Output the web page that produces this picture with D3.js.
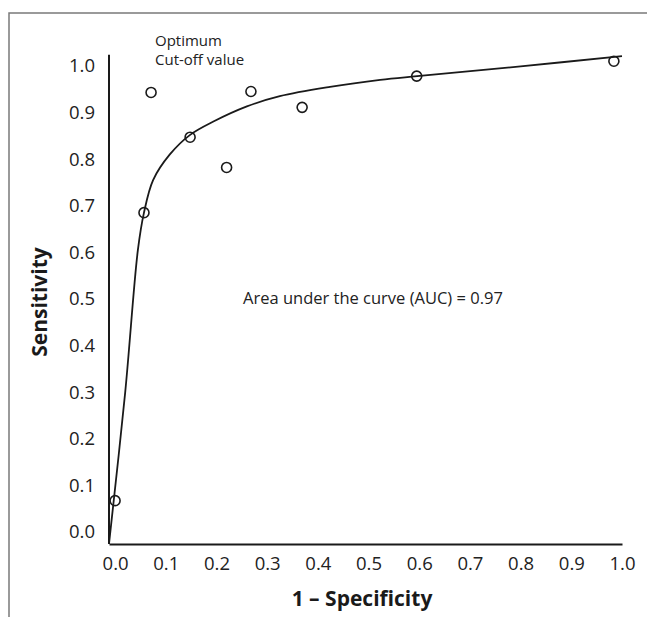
<!DOCTYPE html>
<html>
<head>
<meta charset="utf-8">
<script src="https://cdn.jsdelivr.net/npm/d3@7"></script>
<style>
  body { margin: 0; background: #fff; }
  svg { display: block; font-family: "Open Sans", "Noto Sans", sans-serif; }
</style>
</head>
<body>
<div id="chart"></div>
<script>
// Configuration
const WIDTH = 647;
const HEIGHT = 617;

// Data
const tickValues = [0, 0.1, 0.2, 0.3, 0.4, 0.5, 0.6, 0.7, 0.8, 0.9, 1.0];
const pointX = [0.0, 0.057, 0.071, 0.148, 0.220, 0.268, 0.369, 0.595, 0.984];
const pointY = [0.067, 0.685, 0.943, 0.847, 0.782, 0.945, 0.911, 0.978, 1.01];
const curveX = [-0.012, 0.02, 0.045, 0.057, 0.075, 0.108, 0.148, 0.193, 0.26, 0.325, 0.424, 0.523, 0.596, 0.8, 1.0];
const curveY = [-0.026, 0.30, 0.605, 0.685, 0.755, 0.81, 0.852, 0.880, 0.913, 0.935, 0.955, 0.970, 0.978, 0.999, 1.021];

const svg = d3.select("#chart")
    .append("svg")
    .attr("width", WIDTH)
    .attr("height", HEIGHT);

// Frame lines (top and left)
svg.append("path")
    .attr("d", `M9,${HEIGHT} L9,13 L${WIDTH},13`)
    .attr("fill", "none")
    .attr("stroke", "#7a7a7a")
    .attr("stroke-width", 1.5);

// Scales (0.1 = ~50.7px across, ~46.6px up)
const x = d3.scaleLinear().domain([-0.012, 1.0]).range([109, 622]);
const y = d3.scaleLinear().domain([-0.026, 1.0]).range([544, 544 - 1.026 * 466]);

// Axes
const xAxis = svg.append("g")
    .attr("transform", `translate(0,${y(-0.026)})`)
    .call(d3.axisBottom(x).tickValues(tickValues).tickSize(0).tickPadding(13)
        .tickFormat(d3.format(".1f")));

const yAxis = svg.append("g")
    .attr("transform", `translate(${x(-0.012)},0)`)
    .call(d3.axisLeft(y).tickValues(tickValues).tickSize(0).tickPadding(14)
        .tickFormat(d3.format(".1f")));

[xAxis, yAxis].forEach(g => {
    g.select(".domain").attr("stroke", "#1a1a1a").attr("stroke-width", 2);
    g.selectAll("text")
        .attr("fill", "#222")
        .style("font-size", "18.5px")
        .style("font-family", "'Open Sans', 'Noto Sans', sans-serif");
});
// y axis line runs a bit above 1.0
yAxis.select(".domain").attr("d", `M0,${y(1.024)}V${y(-0.026)}`);

// Axis titles
svg.append("text")
    .attr("x", 362)
    .attr("y", 606)
    .attr("text-anchor", "middle")
    .attr("font-size", 21)
    .attr("font-weight", "bold")
    .attr("fill", "#1a1a1a")
    .text("1 – Specificity");

svg.append("text")
    .attr("transform", "translate(47,302) rotate(-90)")
    .attr("text-anchor", "middle")
    .attr("font-size", 21)
    .attr("font-weight", "bold")
    .attr("fill", "#1a1a1a")
    .text("Sensitivity");

// ROC curve
const curveData = curveX.map((d, i) => [d, curveY[i]]);
svg.append("path")
    .datum(curveData)
    .attr("fill", "none")
    .attr("stroke", "#1a1a1a")
    .attr("stroke-width", 1.8)
    .attr("d", d3.line().x(d => x(d[0])).y(d => y(d[1])).curve(d3.curveCatmullRom.alpha(0.5)));

// Points
const points = pointX.map((d, i) => [d, pointY[i]]);
svg.selectAll(".pt")
    .data(points)
    .enter()
    .append("circle")
    .attr("class", "pt")
    .attr("cx", d => x(d[0]))
    .attr("cy", d => y(d[1]))
    .attr("r", 5)
    .attr("fill", "none")
    .attr("stroke", "#1a1a1a")
    .attr("stroke-width", 1.6);

// Annotations
svg.append("text")
    .attr("x", 155)
    .attr("y", 46)
    .attr("font-size", 15)
    .attr("fill", "#222")
    .text("Optimum");
svg.append("text")
    .attr("x", 155)
    .attr("y", 65)
    .attr("font-size", 15)
    .attr("fill", "#222")
    .text("Cut-off value");

svg.append("text")
    .attr("x", 243)
    .attr("y", 304)
    .attr("font-size", 16.5)
    .attr("fill", "#222")
    .text("Area under the curve (AUC) = 0.97");
</script>
</body>
</html>
